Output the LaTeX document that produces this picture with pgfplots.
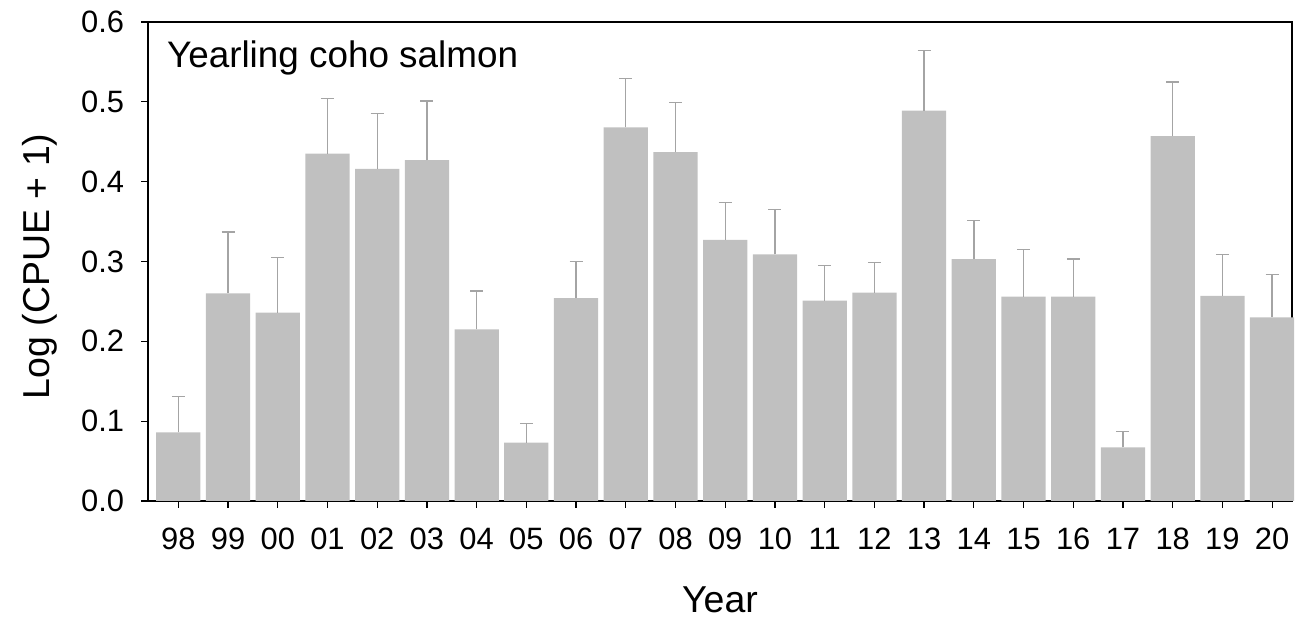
\documentclass[border=0pt]{standalone}
\usepackage{pgfplots}
\usepackage{pgfplotstable}
\usepackage{fontspec}
\setmainfont{Liberation Sans}
\pgfplotsset{compat=1.18}
\definecolor{barfill}{HTML}{C0C0C0}
\definecolor{errcol}{HTML}{A4A4A4}
\pgfplotstableread{
x y e
0 0.086 0.045
1 0.260 0.077
2 0.236 0.069
3 0.435 0.069
4 0.416 0.069
5 0.427 0.074
6 0.215 0.048
7 0.073 0.024
8 0.254 0.046
9 0.468 0.061
10 0.437 0.062
11 0.327 0.047
12 0.309 0.056
13 0.251 0.044
14 0.261 0.038
15 0.489 0.075
16 0.303 0.048
17 0.256 0.059
18 0.256 0.047
19 0.067 0.020
20 0.457 0.068
21 0.257 0.052
22 0.230 0.054
}\datatable
\begin{document}
\begin{tikzpicture}
\begin{axis}[
  scale only axis,
  width=572bp, height=239.5bp,
  xmin=-0.61, xmax=22.4,
  ymin=0, ymax=0.6,
  ytick={0,0.1,0.2,0.3,0.4,0.5,0.6},
  xtick=data,
  xticklabels={98,99,00,01,02,03,04,05,06,07,08,09,10,11,12,13,14,15,16,17,18,19,20},
  yticklabel style={/pgf/number format/fixed, /pgf/number format/fixed zerofill, /pgf/number format/precision=1, xshift=-5bp},
  /pgf/number format/assume math mode=true,
  tick label style={font=\fontsize{15.5}{18}\selectfont},
  tick align=outside,
  major tick length=3.4bp,
  xtick pos=bottom, ytick pos=left,
  tick style={black, line width=0.6pt},
  axis line style={black, line width=0.7pt},
  xticklabel style={yshift=-6.5bp},
  xlabel={Year},
  ylabel={Log (CPUE + 1)},
  label style={font=\fontsize{18.8}{22}\selectfont},
  xlabel style={at={(axis description cs:0.5,-0.2067)}, anchor=center},
  ylabel style={at={(axis description cs:-0.0944,0.49)}, anchor=center},
  clip=false,
]
\addplot[ybar, bar width=0.89, fill=barfill, draw=none,
  error bars/.cd, y dir=plus, y explicit,
  error bar style={errcol, line width=0.7pt},
  error mark options={rotate=90, errcol, line width=0.7pt, mark size=3.25bp}]
  table[x=x, y=y, y error=e]{\datatable};
\node[anchor=west, inner sep=0pt, font=\fontsize{18.5}{22}\selectfont] at (axis description cs:0.0163,0.9257) {Yearling coho salmon};
\end{axis}
\path (current axis.south west) ++(-74bp,-63bp);
\path (current axis.north east) ++(7bp,11bp);
\end{tikzpicture}
\end{document}
